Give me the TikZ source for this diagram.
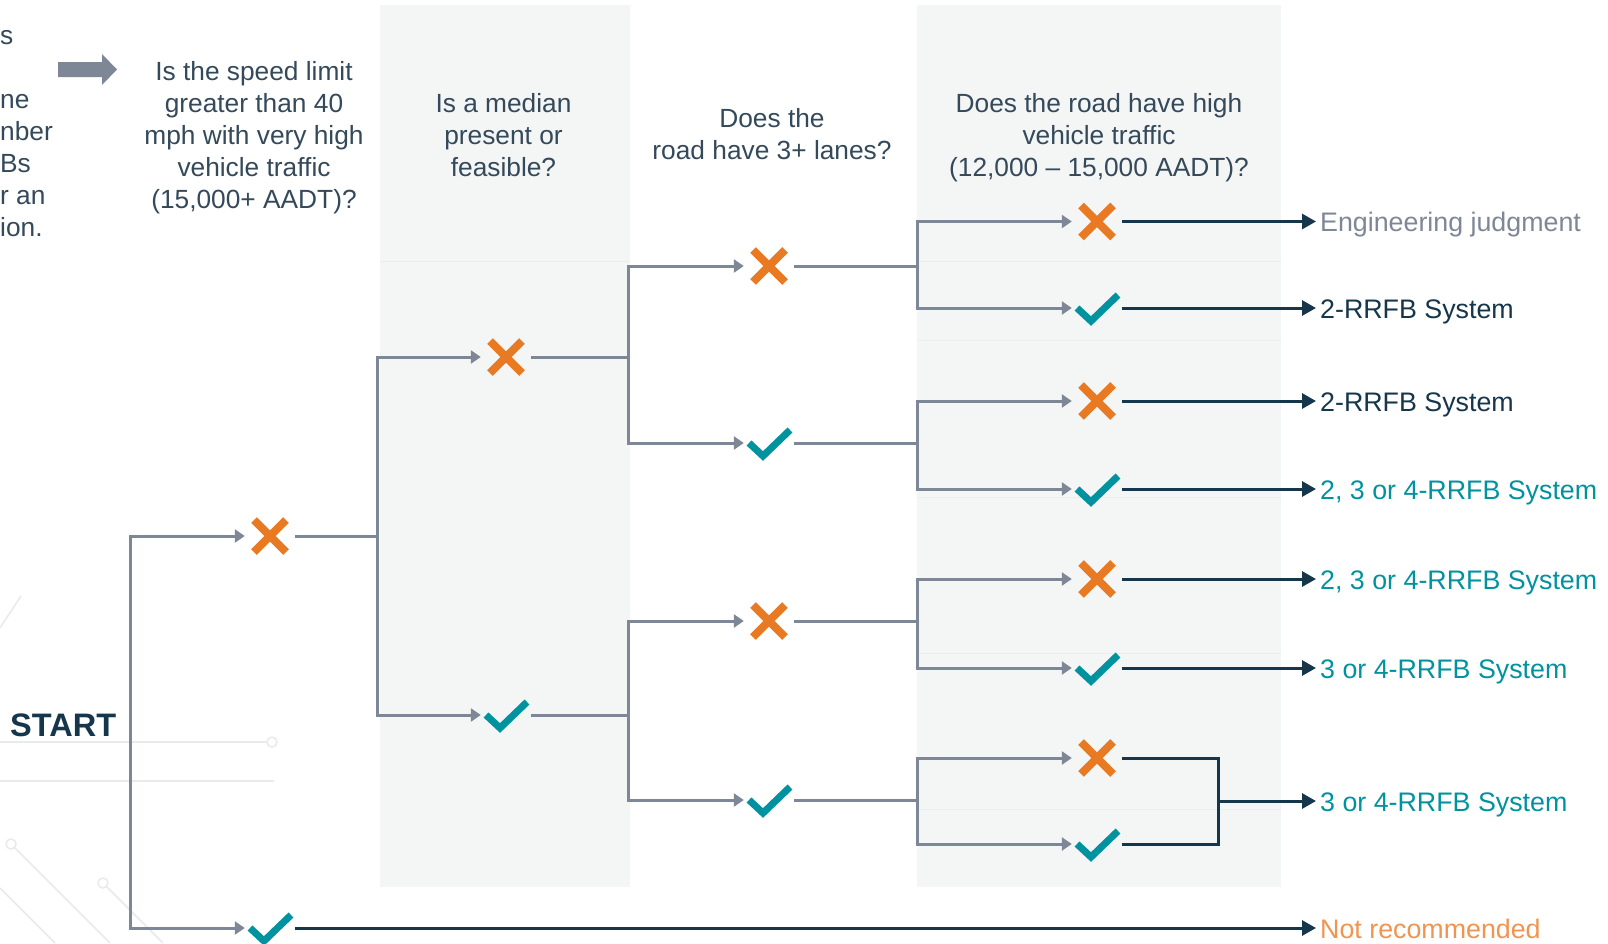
\documentclass[tikz,border=0pt]{standalone}
\usepackage{fontspec}
\setmainfont{Liberation Sans}
\usetikzlibrary{arrows.meta,positioning}
\definecolor{rrPanel}{HTML}{F4F5F5}
\definecolor{rrRule}{HTML}{ECEEEE}
\definecolor{rrDeco}{HTML}{E9EAEB}
\definecolor{rrGrey}{HTML}{7E8796}
\definecolor{rrNavy}{HTML}{15364B}
\definecolor{rrText}{HTML}{34495A}
\definecolor{rrOrange}{HTML}{E87A24}
\definecolor{rrPeach}{HTML}{F1944F}
\definecolor{rrTeal}{HTML}{00939F}

\tikzset{
  q/.style={align=center,text=rrText,inner sep=0pt,font=\fontsize{26.3}{32}\selectfont},
  frag/.style={anchor=base west,text=rrText,inner sep=0pt,font=\fontsize{26.3}{32}\selectfont},
  res/.style={anchor=base west,inner sep=0pt,font=\fontsize{26.8}{32}\selectfont},
  ic/.style={minimum width=50pt,minimum height=50pt,inner sep=0pt},
  no/.style={ic,path picture={\draw[rrOrange,line width=8pt,shift={(path picture bounding box.center)},x=1pt,y=1pt]
    (-16,-16)--(16,16) (-16,16)--(16,-16);}},
  yes/.style={ic,path picture={\draw[rrTeal,line width=7pt,miter limit=4,shift={(path picture bounding box.center)},x=1pt,y=1pt]
    (-20,0)--(-6,-13)--(21,13);}},
  stem/.style={rrGrey,line width=3pt},
  fork/.style={stem,{Triangle[length=10pt,width=13pt]}-{Triangle[length=10pt,width=13pt]}},
  merge/.style={rrNavy,line width=3pt},
  outarr/.style={merge,-{Triangle[length=14pt,width=15pt]},shorten >=4pt},
}

\begin{document}
\begin{tikzpicture}[x=1pt,y=-1pt]
\useasboundingbox (0,0) rectangle (1608,943);
\fill[white](0,0)rectangle(1608,943);
% column panels
\fill[rrPanel](380,5)rectangle(630,887);\fill[rrPanel](917,5)rectangle(1281,887);
\draw[rrRule,line width=1pt](380,261)--(630,261);
\foreach \y in {261,340,497,653,809}{\draw[rrRule,line width=1pt](917,\y)--(1281,\y);}
% faint traces behind START
\begin{scope}[rrDeco,line width=1.5pt]
\draw(0,628)--(21,596);
\draw(0,742)--(267,742);\draw(272,742)circle[radius=5pt];
\draw(0,781)--(274,781);
\draw(11,844)circle[radius=5pt];\draw(14.5,847.5)--(110,943);
\draw(0,888)--(55,943);
\draw(103,883)circle[radius=5pt];\draw(106.5,886.5)--(163,943);
\end{scope}
% text running in from the left edge, and pointer
\node[frag](f1) at (0,44){s};
\node[frag](f2) at (0,108){ne};
\node[frag](f3) at (0,140){nber};
\node[frag](f4) at (0,172){Bs};
\node[frag](f5) at (0,204){r an};
\node[frag](f6) at (0,236){ion.};
\fill[rrGrey](58,62)--(102,62)--(102,54)--(117,69.5)--(102,85)--(102,77)--(58,77)--cycle;
% questions
\node[q](q1) at (254,137.5){Is the speed limit\\greater than 40\\mph with very high\\vehicle traffic\\(15,000+ AADT)?};
\node[q](q2) at (503.5,135){Is a median\\present or\\feasible?};
\node[q](q3) at (772,134){Does the\\road have 3+ lanes?};
\node[q](q4) at (1099,138){Does the road have high\\vehicle traffic\\(12,000 – 15,000 AADT)?};
\node[anchor=base west,inner sep=0pt,text=rrNavy,font=\bfseries\fontsize{32.5}{36}\selectfont](start) at (10,736.5){START};
% level 1
\coordinate(root) at (130,536);
\node[no](a) at (270,536){};
\node[yes](b) at (270,928){};
\draw[fork](a.west)--(root)|-(b.west);
% level 2
\node[no](aa) at (506,357){};
\node[yes](ab) at (506,715){};
\coordinate(s1) at (377,536);
\draw[stem](a.east)--(s1);\draw[fork](aa.west)-|(s1)|-(ab.west);
% level 3
\node[no](aaa) at (769,266){};\node[yes](aab) at (769,443){};
\node[no](aba) at (769,621){};\node[yes](abb) at (769,800){};
\coordinate(s2) at (628,357);\coordinate(s3) at (628,715);
\draw[stem](aa.east)--(s2);\draw[fork](aaa.west)-|(s2)|-(aab.west);
\draw[stem](ab.east)--(s3);\draw[fork](aba.west)-|(s3)|-(abb.west);
% level 4
\node[no](aaaa) at (1097,221.5){};\node[yes](aaab) at (1097,308){};
\node[no](aaba) at (1097,401){};\node[yes](aabb) at (1097,489){};
\node[no](abaa) at (1097,579){};\node[yes](abab) at (1097,668){};
\node[no](abba) at (1097,758){};\node[yes](abbb) at (1097,844){};
\coordinate(s4) at (917,266);\coordinate(s5) at (917,443);
\coordinate(s6) at (917,621);\coordinate(s7) at (917,800);
\draw[stem](aaa.east)--(s4);\draw[fork](aaaa.west)-|(s4)|-(aaab.west);
\draw[stem](aab.east)--(s5);\draw[fork](aaba.west)-|(s5)|-(aabb.west);
\draw[stem](aba.east)--(s6);\draw[fork](abaa.west)-|(s6)|-(abab.west);
\draw[stem](abb.east)--(s7);\draw[fork](abba.west)-|(s7)|-(abbb.west);
% outcomes
\node[res,text=rrGrey](r1) at (1320,231.5){Engineering judgment};
\node[res,text=rrNavy](r2) at (1320,318){2-RRFB System};
\node[res,text=rrNavy](r3) at (1320,411){2-RRFB System};
\node[res,text=rrTeal](r4) at (1320,499){2, 3 or 4-RRFB System};
\node[res,text=rrTeal](r5) at (1320,589){2, 3 or 4-RRFB System};
\node[res,text=rrTeal](r6) at (1320,678){3 or 4-RRFB System};
\node[res,text=rrTeal](r7) at (1320,811){3 or 4-RRFB System};
\node[res,text=rrPeach](r8) at (1320,938){Not recommended};
\draw[outarr](aaaa.east)--(r1.base west|-aaaa);
\draw[outarr](aaab.east)--(r2.base west|-aaab);
\draw[outarr](aaba.east)--(r3.base west|-aaba);
\draw[outarr](aabb.east)--(r4.base west|-aabb);
\draw[outarr](abaa.east)--(r5.base west|-abaa);
\draw[outarr](abab.east)--(r6.base west|-abab);
\coordinate(m) at (1218,801);
\draw[merge](abba.east)-|(m)|-(abbb.east);
\draw[outarr](m)--(r7.base west|-m);
\draw[outarr](b.east)--(r8.base west|-b);
\end{tikzpicture}
\end{document}
